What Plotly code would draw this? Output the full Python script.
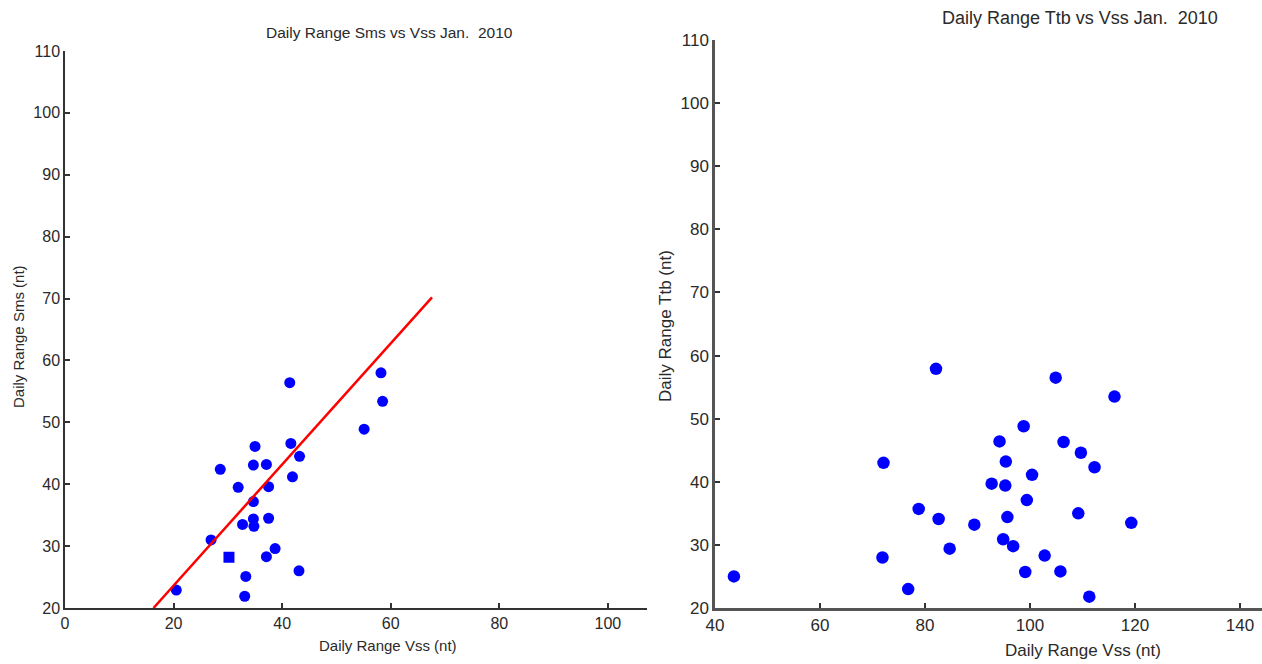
import plotly.graph_objects as go

# ---- Data ----
sms_vss = [20.5, 33.1, 33.3, 30.2, 26.9, 37.1, 38.7, 43.1, 32.7, 34.7, 34.8, 37.5, 34.7,
           31.9, 37.5, 41.9, 28.6, 34.7, 37.1, 43.2, 35.0, 41.6, 41.4, 55.1, 58.5, 58.2]
sms_val = [22.9, 21.9, 25.1, 28.2, 31.0, 28.3, 29.6, 26.0, 33.5, 34.4, 33.2, 34.5, 37.2,
           39.5, 39.6, 41.2, 42.4, 43.1, 43.2, 44.5, 46.1, 46.6, 56.4, 48.9, 53.4, 58.0]
sms_symbols = ["circle"] * 3 + ["square"] + ["circle"] * 22

fit_x = [16.3, 67.6]
fit_y = [20.0, 70.2]

ttb_vss = [43.6, 72.1, 71.9, 76.8, 78.8, 82.1, 82.6, 84.7, 89.4, 92.7, 94.2, 95.4, 95.3, 95.7,
           94.9, 96.8, 98.8, 99.1, 99.4, 100.4, 102.8, 104.9, 105.8, 106.4, 109.2, 109.7,
           111.3, 112.3, 116.1, 119.3]
ttb_val = [25.0, 43.0, 28.0, 23.0, 35.7, 57.9, 34.1, 29.4, 33.2, 39.7, 46.4, 43.2, 39.4, 34.4,
           30.9, 29.8, 48.8, 25.7, 37.1, 41.1, 28.3, 56.5, 25.8, 46.3, 35.0, 44.6,
           21.8, 42.3, 53.5, 33.5]

left_xticks = [0, 20, 40, 60, 80, 100]
right_xticks = [40, 60, 80, 100, 120, 140]
yticks = [20, 30, 40, 50, 60, 70, 80, 90, 100, 110]

W, H = 1262, 664
FONT = "Liberation Sans Narrow, Liberation Sans, Arial, sans-serif"
TXT = "#2a2a2a"
AX = "#333333"

def px(x):
    return x / W

def py(y):
    return 1 - y / H

fig = go.Figure()

fig.add_trace(go.Scatter(x=sms_vss, y=sms_val, mode="markers",
                         marker=dict(color="#0000ff", size=11, symbol=sms_symbols, line=dict(width=0)),
                         xaxis="x", yaxis="y", showlegend=False))
fig.add_trace(go.Scatter(x=fit_x, y=fit_y, mode="lines",
                         line=dict(color="#ff0000", width=2.5),
                         xaxis="x", yaxis="y", showlegend=False))
fig.add_trace(go.Scatter(x=ttb_vss, y=ttb_val, mode="markers",
                         marker=dict(color="#0000ff", size=12.5, symbol="circle", line=dict(width=0)),
                         xaxis="x2", yaxis="y2", showlegend=False))

common_axis = dict(showgrid=False, zeroline=False, showline=True, ticks="inside",
                   ticklen=5, tickcolor=AX, automargin=False)

fig.update_layout(
    width=W, height=H,
    margin=dict(l=0, r=0, t=0, b=0, autoexpand=False),
    paper_bgcolor="white", plot_bgcolor="white",
    font=dict(family=FONT, color=TXT),
    xaxis=dict(domain=[px(65), px(647)], range=[0, 107.2], tickvals=left_xticks,
               anchor="y", linewidth=1.5, tickwidth=1.5, linecolor=AX,
               tickfont=dict(size=16, family=FONT, color=TXT), **common_axis),
    yaxis=dict(domain=[py(608), py(51)], range=[20, 110], tickvals=yticks,
               anchor="x", linewidth=1.5, tickwidth=1.5, linecolor=AX,
               tickfont=dict(size=16, family=FONT, color=TXT), **common_axis),
    xaxis2=dict(domain=[px(715), 1.0], range=[40, 144.2], tickvals=right_xticks,
                anchor="y2", linewidth=2.5, tickwidth=2, linecolor="#555555",
                tickfont=dict(size=17, family=FONT, color=TXT), **common_axis),
    yaxis2=dict(domain=[py(608), py(40)], range=[20, 110], tickvals=yticks,
                anchor="x2", linewidth=2.5, tickwidth=2, linecolor="#555555",
                tickfont=dict(size=17, family=FONT, color=TXT), **common_axis),
)

annotations = [
    dict(text="Daily Range Sms vs Vss Jan.  2010", x=px(389), y=py(33), size=15.5, angle=0),
    dict(text="Daily Range Ttb vs Vss Jan.  2010", x=px(1080), y=py(18), size=18, angle=0),
    dict(text="Daily Range Vss (nt)", x=px(388), y=py(645), size=15, angle=0),
    dict(text="Daily Range Vss (nt)", x=px(1083), y=py(650), size=17, angle=0),
    dict(text="Daily Range Sms (nt)", x=px(18), y=py(337), size=15, angle=-90),
    dict(text="Daily Range Ttb (nt)", x=px(665), y=py(326), size=17, angle=-90),
]
for a in annotations:
    fig.add_annotation(text=a["text"], x=a["x"], y=a["y"], xref="paper", yref="paper",
                       showarrow=False, textangle=a["angle"], xanchor="center", yanchor="middle",
                       font=dict(size=a["size"], family=FONT, color=TXT))

fig.write_html("out.html")
